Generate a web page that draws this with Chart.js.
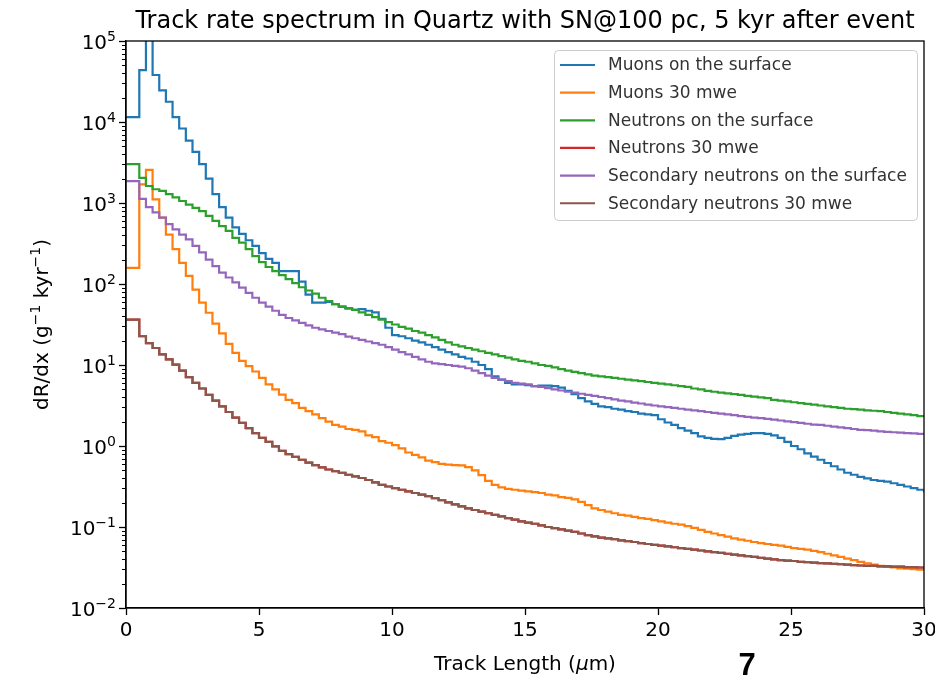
<!DOCTYPE html>
<html>
<head>
<meta charset="utf-8">
<script src="https://cdn.jsdelivr.net/npm/chart.js@4.4.1/dist/chart.umd.min.js"></script>
<style>
  html, body { margin: 0; padding: 0; background: #fff; }
  #wrap { width: 935px; height: 676px; position: relative; }
</style>
</head>
<body>
<div id="wrap"><canvas id="trackChart"></canvas></div>
<script>
// histogram bins, 0.25 um wide, from 0 to 30 um
const binWidth = 0.25;
const binCount = 120;
const binEnds = Array.from({length: binCount}, (_, i) => (i + 1) * binWidth);
const xTicks = [0, 5, 10, 15, 20, 25, 30];
const yDecades = [-2, -1, 0, 1, 2, 3, 4, 5];

// log10 of dR/dx, one value per bin
const muonsSurface = [
  4.06, 4.64, 5.08, 4.58, 4.39, 4.25, 4.06, 3.92, 3.77, 3.63,
  3.48, 3.30, 3.11, 2.95, 2.82, 2.70, 2.62, 2.54, 2.47, 2.38,
  2.31, 2.26, 2.16, 2.16, 2.16, 2.03, 1.87, 1.77, 1.77, 1.78,
  1.75, 1.72, 1.70, 1.68, 1.69, 1.67, 1.65, 1.57, 1.46, 1.37,
  1.355, 1.33, 1.30, 1.28, 1.25, 1.22, 1.19, 1.16, 1.13, 1.10,
  1.08, 1.04, 1.00, 0.95, 0.86, 0.82, 0.78, 0.76, 0.76, 0.75,
  0.74, 0.745, 0.745, 0.74, 0.72, 0.68, 0.64, 0.59, 0.55, 0.52,
  0.49, 0.48, 0.46, 0.45, 0.43, 0.42, 0.40, 0.39, 0.38, 0.33,
  0.29, 0.26, 0.22, 0.19, 0.16, 0.12, 0.10, 0.087, 0.085, 0.10,
  0.125, 0.14, 0.15, 0.16, 0.16, 0.15, 0.13, 0.10, 0.05, 0.00,
  -0.04, -0.09, -0.13, -0.17, -0.21, -0.25, -0.29, -0.33, -0.355, -0.38,
  -0.40, -0.42, -0.43, -0.44, -0.46, -0.48, -0.50, -0.52, -0.54, -0.57
];
const muons30 = [
  2.20, 3.23, 3.41, 3.045, 2.82, 2.61, 2.43, 2.26, 2.10, 1.93,
  1.77, 1.645, 1.51, 1.39, 1.26, 1.15, 1.05, 0.985, 0.92, 0.84,
  0.76, 0.70, 0.635, 0.57, 0.53, 0.47, 0.43, 0.39, 0.345, 0.30,
  0.26, 0.24, 0.21, 0.20, 0.18, 0.13, 0.11, 0.06, 0.04, 0.01,
  -0.03, -0.08, -0.11, -0.14, -0.18, -0.20, -0.22, -0.23, -0.235, -0.24,
  -0.26, -0.30, -0.36, -0.43, -0.48, -0.51, -0.53, -0.54, -0.55, -0.56,
  -0.57, -0.58, -0.60, -0.61, -0.63, -0.64, -0.66, -0.69, -0.73, -0.77,
  -0.79, -0.81, -0.83, -0.85, -0.86, -0.875, -0.89, -0.90, -0.915, -0.93,
  -0.945, -0.96, -0.97, -0.99, -1.01, -1.035, -1.06, -1.08, -1.10, -1.12,
  -1.14, -1.155, -1.17, -1.185, -1.20, -1.21, -1.22, -1.23, -1.245, -1.26,
  -1.27, -1.28, -1.295, -1.31, -1.33, -1.35, -1.37, -1.39, -1.41, -1.43,
  -1.45, -1.465, -1.48, -1.49, -1.50, -1.51, -1.515, -1.52, -1.525, -1.53
];
const neutronsSurface = [
  3.48, 3.31, 3.21, 3.17, 3.15, 3.11, 3.07, 3.025, 2.98, 2.94,
  2.90, 2.84, 2.78, 2.715, 2.655, 2.57, 2.51, 2.43, 2.345, 2.27,
  2.21, 2.16, 2.11, 2.06, 2.01, 1.96, 1.92, 1.88, 1.83, 1.79,
  1.75, 1.72, 1.70, 1.68, 1.65, 1.62, 1.59, 1.56, 1.53, 1.50,
  1.47, 1.45, 1.42, 1.40, 1.37, 1.34, 1.31, 1.28, 1.25, 1.23,
  1.21, 1.19, 1.17, 1.15, 1.13, 1.11, 1.09, 1.07, 1.05, 1.04,
  1.02, 1.00, 0.99, 0.97, 0.95, 0.93, 0.915, 0.90, 0.885, 0.87,
  0.86, 0.85, 0.84, 0.83, 0.82, 0.81, 0.80, 0.79, 0.78, 0.77,
  0.76, 0.75, 0.74, 0.73, 0.71, 0.70, 0.68, 0.67, 0.66, 0.65,
  0.64, 0.63, 0.62, 0.61, 0.60, 0.59, 0.57, 0.56, 0.55, 0.54,
  0.53, 0.52, 0.51, 0.50, 0.49, 0.48, 0.47, 0.46, 0.455, 0.45,
  0.44, 0.435, 0.43, 0.42, 0.41, 0.40, 0.39, 0.38, 0.37, 0.36
];
const secNeutronsSurface = [
  3.27, 3.05, 2.95, 2.885, 2.82, 2.74, 2.675, 2.61, 2.55, 2.47,
  2.39, 2.30, 2.22, 2.14, 2.08, 2.02, 1.955, 1.89, 1.83, 1.77,
  1.72, 1.67, 1.62, 1.58, 1.55, 1.52, 1.49, 1.46, 1.44, 1.42,
  1.40, 1.38, 1.35, 1.33, 1.31, 1.29, 1.27, 1.25, 1.22, 1.19,
  1.16, 1.13, 1.10, 1.07, 1.04, 1.02, 1.01, 1.00, 0.99, 0.98,
  0.96, 0.93, 0.90, 0.87, 0.84, 0.82, 0.80, 0.78, 0.77, 0.76,
  0.74, 0.73, 0.715, 0.70, 0.685, 0.67, 0.66, 0.645, 0.63, 0.62,
  0.605, 0.59, 0.575, 0.56, 0.55, 0.535, 0.525, 0.51, 0.50, 0.49,
  0.48, 0.47, 0.46, 0.45, 0.44, 0.43, 0.42, 0.41, 0.40, 0.39,
  0.38, 0.37, 0.36, 0.35, 0.345, 0.335, 0.325, 0.315, 0.305, 0.295,
  0.285, 0.275, 0.265, 0.26, 0.25, 0.24, 0.23, 0.22, 0.21, 0.20,
  0.195, 0.19, 0.18, 0.175, 0.17, 0.165, 0.16, 0.155, 0.15, 0.14
];
const secNeutrons30 = [
  1.56, 1.355, 1.27, 1.21, 1.13, 1.07, 1.005, 0.93, 0.85, 0.78,
  0.71, 0.63, 0.56, 0.49, 0.42, 0.35, 0.285, 0.22, 0.16, 0.10,
  0.05, -0.005, -0.06, -0.10, -0.135, -0.17, -0.205, -0.235, -0.265, -0.29,
  -0.31, -0.33, -0.355, -0.375, -0.395, -0.42, -0.45, -0.48, -0.50, -0.52,
  -0.54, -0.56, -0.58, -0.60, -0.62, -0.645, -0.67, -0.695, -0.72, -0.745,
  -0.77, -0.79, -0.81, -0.83, -0.85, -0.87, -0.89, -0.91, -0.93, -0.945,
  -0.96, -0.98, -1.00, -1.015, -1.03, -1.045, -1.06, -1.08, -1.10, -1.115,
  -1.13, -1.14, -1.15, -1.165, -1.175, -1.185, -1.20, -1.21, -1.22, -1.23,
  -1.24, -1.25, -1.26, -1.27, -1.28, -1.29, -1.30, -1.31, -1.32, -1.33,
  -1.34, -1.35, -1.36, -1.37, -1.38, -1.39, -1.40, -1.41, -1.415, -1.42,
  -1.43, -1.435, -1.44, -1.445, -1.45, -1.455, -1.46, -1.465, -1.47, -1.475,
  -1.48, -1.48, -1.485, -1.485, -1.49, -1.49, -1.495, -1.495, -1.50, -1.505
];
// the red curve sits exactly under the brown one in the picture
const neutrons30 = secNeutrons30.slice();

const seriesLabels = [
  "Muons on the surface",
  "Muons 30 mwe",
  "Neutrons on the surface",
  "Neutrons 30 mwe",
  "Secondary neutrons on the surface",
  "Secondary neutrons 30 mwe"
];
const seriesColors = ["#1f77b4", "#ff7f0e", "#2ca02c", "#d62728", "#9467bd", "#8c564b"];
const seriesLogs = [muonsSurface, muons30, neutronsSurface, neutrons30, secNeutronsSurface, secNeutrons30];

const FONT = "'DejaVu Sans', sans-serif";
Chart.defaults.font.family = FONT;
Chart.defaults.color = "#000";

// each bin value is held from the bin start to the bin end
function toPoints(logs) {
  const pts = [{x: 0, y: Math.pow(10, logs[0])}];
  logs.forEach((v, i) => pts.push({x: binEnds[i], y: Math.pow(10, v)}));
  return pts;
}

const datasets = seriesLogs.map((logs, i) => ({
  label: seriesLabels[i],
  data: toPoints(logs),
  borderColor: seriesColors[i],
  backgroundColor: seriesColors[i],
  borderWidth: 2.2,
  pointRadius: 0,
  fill: false,
  stepped: 'before',
  order: seriesLogs.length - i,
  clip: 0
}));

function supText(ctx, parts, x, y, baseSize, align) {
  // parts: [text, isSup, italic]
  const fontOf = p => (p[2] ? "italic " : "") + (p[1] ? baseSize * 0.7 : baseSize) + "px " + FONT;
  const widths = parts.map(p => { ctx.font = fontOf(p); return ctx.measureText(p[0]).width; });
  const total = widths.reduce((a, b) => a + b, 0);
  let cx = align === 'center' ? x - total / 2 : (align === 'right' ? x - total : x);
  parts.forEach((p, i) => {
    ctx.font = fontOf(p);
    ctx.fillText(p[0], cx, p[1] ? y - baseSize * 0.42 : y);
    cx += widths[i];
  });
}

const decorations = {
  id: 'decorations',
  afterDraw(chart) {
    const ctx = chart.ctx;
    const area = chart.chartArea;
    const ys = chart.scales.y;
    ctx.save();
    ctx.fillStyle = "#000";
    ctx.strokeStyle = "#000";

    // minor ticks on log axis
    ctx.lineWidth = 1;
    for (let d = yDecades[0]; d < yDecades[yDecades.length - 1]; d++) {
      for (let m = 2; m <= 9; m++) {
        const py = Math.round(ys.getPixelForValue(m * Math.pow(10, d))) + 0.5;
        ctx.beginPath();
        ctx.moveTo(area.left - 4, py);
        ctx.lineTo(area.left, py);
        ctx.stroke();
      }
    }

    // frame
    ctx.lineWidth = 1.3;
    ctx.strokeRect(area.left, area.top, area.right - area.left, area.bottom - area.top);

    // y tick labels 10^n
    ctx.textBaseline = 'alphabetic';
    ctx.textAlign = 'left';
    yDecades.forEach(d => {
      const py = ys.getPixelForValue(Math.pow(10, d));
      const exp = d < 0 ? "\u2212" + Math.abs(d) : String(d);
      supText(ctx, [["10", false], [exp, true]], area.left - 10, py + 8, 20, 'right');
    });

    // title
    ctx.font = "24px " + FONT;
    ctx.textAlign = 'center';
    ctx.fillText("Track rate spectrum in Quartz with SN@100 pc, 5 kyr after event", (area.left + area.right) / 2, 28);

    // x axis title
    ctx.textAlign = 'left';
    supText(ctx, [["Track Length (", false], ["\u03bc", false, true], ["m)", false]], (area.left + area.right) / 2, 670, 20, 'center');

    // y axis title
    ctx.save();
    ctx.translate(48, (area.top + area.bottom) / 2);
    ctx.rotate(-Math.PI / 2);
    supText(ctx, [["dR/dx (g", false], ["\u22121", true], [" kyr", false], ["\u22121", true], [")", false]], 0, 0, 20, 'center');
    ctx.restore();

    // legend
    const lx = 554, ly = 50, lw = 363, lh = 170;
    ctx.fillStyle = "rgba(255,255,255,0.8)";
    ctx.strokeStyle = "#cccccc";
    ctx.lineWidth = 1;
    ctx.beginPath();
    ctx.roundRect(lx + 0.5, ly + 0.5, lw, lh, 4);
    ctx.fill();
    ctx.stroke();
    ctx.font = "17px " + FONT;
    ctx.textBaseline = 'middle';
    chart.data.datasets.forEach((ds, i) => {
      const cy = 65 + i * 27.65;
      ctx.strokeStyle = ds.borderColor;
      ctx.lineWidth = 2.2;
      ctx.beginPath();
      ctx.moveTo(lx + 6, cy);
      ctx.lineTo(lx + 41, cy);
      ctx.stroke();
      ctx.fillStyle = "#333";
      ctx.fillText(ds.label, lx + 54, cy + 1);
    });

    // stray page number under the plot
    ctx.fillStyle = "#000";
    ctx.font = "bold 31px 'Liberation Sans', sans-serif";
    ctx.textAlign = 'center';
    ctx.textBaseline = 'alphabetic';
    ctx.fillText("7", 747, 675);
    ctx.restore();
  }
};

new Chart(document.getElementById("trackChart"), {
  type: 'line',
  data: { datasets: datasets },
  options: {
    responsive: true,
    maintainAspectRatio: false,
    animation: false,
    devicePixelRatio: 1,
    layout: { padding: { top: 41, right: 11, left: 0, bottom: 0 } },
    plugins: { legend: { display: false }, title: { display: false }, tooltip: { enabled: false } },
    scales: {
      x: {
        type: 'linear',
        min: 0,
        max: 30,
        afterBuildTicks: s => { s.ticks = xTicks.map(v => ({value: v})); },
        afterFit: s => { s.height = 68; s.paddingLeft = 0; s.paddingRight = 0; },
        grid: { drawOnChartArea: false, drawTicks: true, tickLength: 7, tickWidth: 1.3, tickColor: "#000" },
        border: { display: true, color: "#000", width: 1.3 },
        ticks: { font: { size: 20 }, color: "#000", padding: 4, maxRotation: 0, autoSkip: false }
      },
      y: {
        type: 'logarithmic',
        min: 1e-2,
        max: 1e5,
        afterBuildTicks: s => { s.ticks = yDecades.map(d => ({value: Math.pow(10, d), major: true})); },
        afterFit: s => { s.width = 126; },
        grid: { drawOnChartArea: false, drawTicks: true, tickLength: 7, tickWidth: 1.3, tickColor: "#000" },
        border: { display: true, color: "#000", width: 1.3 },
        ticks: { callback: () => "", autoSkip: false }
      }
    }
  },
  plugins: [decorations]
});
</script>
</body>
</html>
